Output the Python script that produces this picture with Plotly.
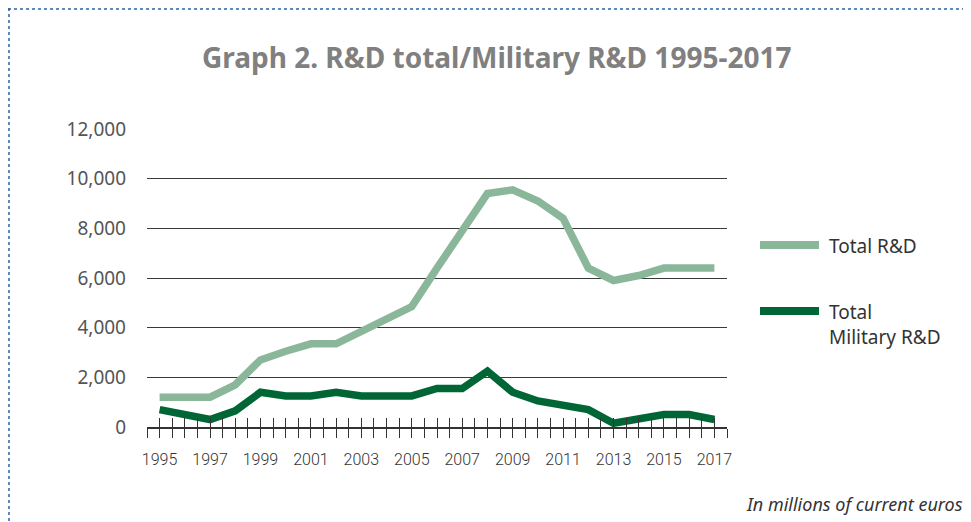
import plotly.graph_objects as go
import numpy as np

years = list(range(1995, 2018))
total_rd = [1200, 1200, 1200, 1700, 2700, 3050, 3350, 3350, 3850, 4300, 4850,
            6400, 7900, 9400, 9550, 9100, 8400, 6400, 5900, 6100, 6400, 6400, 6400]
military_rd = [700, 500, 300, 650, 1400, 1250, 1250, 1400, 1250, 1250, 1250,
               1550, 1550, 2250, 1400, 1050, 850, 700, 150, 350, 500, 500, 300]
y_ticks = [0, 2000, 4000, 6000, 8000, 10000, 12000]
y_labels = ["0", "2,000", "4,000", "6,000", "8,000", "10,000", "12,000"]
series_names = ["Total R&D", "Total<br>Military R&D"]

LIGHT = "#8ab799"
DARK = "#006635"

OFF = 8  # page body margin
W, H = 971 - OFF, 522 - OFF
L, R, T, B = 147 - OFF, 244, 129 - OFF, 95
PW, PH = W - L - R, H - T - B

def px(x):
    return (x - OFF - L) / PW

def py(y):
    return (H - B - (y - OFF)) / PH

tickvals = list(np.arange(1994.5, 2017.51, 0.5))
ticktext = [str(int(v)) if (v == int(v) and int(v) % 2 == 1) else "" for v in tickvals]

fig = go.Figure()
fig.add_trace(go.Scatter(x=years, y=total_rd, mode="lines", name="Total R&D",
                         line=dict(color=LIGHT, width=7.5), showlegend=False))
fig.add_trace(go.Scatter(x=years, y=military_rd, mode="lines", name="Total Military R&D",
                         line=dict(color=DARK, width=7.5), showlegend=False))
fig.add_trace(go.Scatter(x=[years[0]], y=[0], xaxis="x2", mode="markers",
                         marker=dict(opacity=0), showlegend=False, hoverinfo="skip"))

fig.update_layout(
    width=W, height=H,
    margin=dict(l=L, r=R, t=T, b=B),
    paper_bgcolor="white", plot_bgcolor="white",
    xaxis=dict(range=[1994.5, 2017.5], tickmode="array", tickvals=tickvals, ticktext=ticktext,
               ticks="outside", ticklen=9, tickcolor="#333", tickwidth=1,
               showline=True, linecolor="#333", linewidth=1.5, showgrid=False, zeroline=False,
               tickfont=dict(family="Roboto, sans-serif",
                             size=16, color="#333", weight=300), ticklabelstandoff=8),
    xaxis2=dict(range=[1994.5, 2017.5], overlaying="x", anchor="y", side="bottom",
                tickmode="array", tickvals=tickvals, ticktext=[""] * len(tickvals),
                ticks="inside", ticklen=9, tickcolor="#333", tickwidth=1,
                showline=False, showgrid=False, zeroline=False),
    yaxis=dict(range=[0, 12000], tickmode="array", tickvals=y_ticks, ticktext=y_labels,
               showgrid=True, gridcolor="#3a3a3a", gridwidth=1, zeroline=False,
               showline=False, ticks="", ticklabelstandoff=20,
               tickfont=dict(family="Noto Sans, sans-serif", size=19, color="#555")),
    showlegend=False,
)

fig.add_annotation(text="<b>Graph 2. R&D total/Military R&D 1995-2017</b>",
                   xref="paper", yref="paper", x=px(496), y=py(57),
                   xanchor="center", yanchor="middle", showarrow=False,
                   font=dict(family="Noto Sans, sans-serif", size=28, color="#808080"))

fig.add_annotation(text="<i>In millions of current euros</i>",
                   xref="paper", yref="paper", x=px(965), y=py(504),
                   xanchor="right", yanchor="middle", showarrow=False,
                   font=dict(family="Noto Sans, sans-serif", size=18, color="#333"))

legend_items = [(series_names[0], LIGHT, 245), (series_names[1], DARK, 311)]
for name, color, yy in legend_items:
    fig.add_shape(type="line", xref="paper", yref="paper",
                  x0=px(760), x1=px(819), y0=py(yy), y1=py(yy),
                  line=dict(color=color, width=8))
    fig.add_annotation(text=name, xref="paper", yref="paper", x=px(827), y=py(yy - 14),
                       xanchor="left", yanchor="top", align="left", showarrow=False,
                       font=dict(family="Noto Sans, sans-serif", size=19, color="#333"))

fig.add_shape(type="line", xref="paper", yref="paper", x0=px(8), x1=px(971),
              y0=py(9), y1=py(9), line=dict(color="#2a62a6", width=1.5, dash="dot"))
fig.add_shape(type="line", xref="paper", yref="paper", x0=px(9), x1=px(9),
              y0=py(8), y1=py(522), line=dict(color="#2a62a6", width=1.5, dash="dot"))

fig.write_html("out.html")
